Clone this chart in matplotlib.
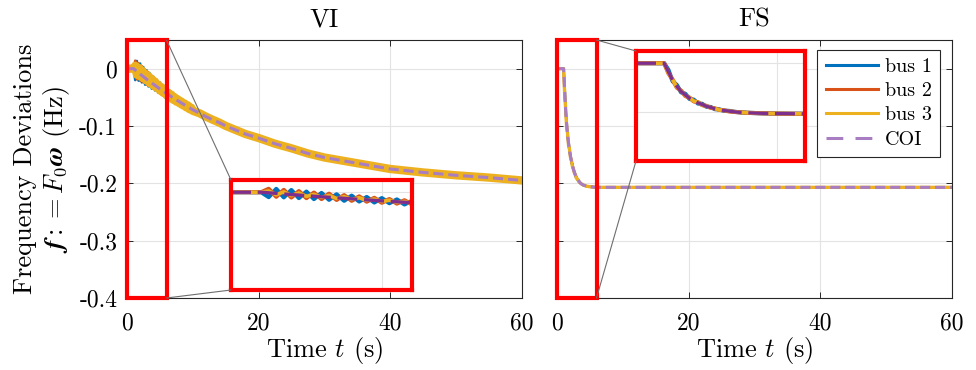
import numpy as np
import matplotlib
matplotlib.use('Agg')
import matplotlib.pyplot as plt
from matplotlib.patches import Rectangle, ConnectionPatch

plt.rcParams['font.family'] = 'cmr10'
plt.rcParams['mathtext.fontset'] = 'cm'
plt.rcParams['axes.unicode_minus'] = False

# VI case: bus frequencies (Hz), oscillating part then slow decay
vi_t = [0, 1.0, 1.25, 1.5, 1.75, 2.0, 2.25, 2.5, 2.75, 3.0, 3.25, 3.5, 3.75, 4.0,
        4.25, 4.5, 4.75, 5.0, 5.25, 5.5, 5.75, 6.0, 6.25, 6.5, 6.75, 7.0, 7.25,
        7.5, 7.75, 8.0, 8.25, 8.5, 8.75, 9.0, 9.25, 9.5, 9.75, 10.0,
        11, 12, 13, 14, 15, 18, 20, 22.5, 25, 27.5, 30, 35, 40, 45, 50, 55, 60]
vi_tail = [-0.0777, -0.0837, -0.089, -0.094, -0.0999, -0.114, -0.121, -0.131,
           -0.139, -0.148, -0.155, -0.165, -0.175, -0.181, -0.186, -0.190, -0.195]
vi_bus1 = [0, 0, -0.020, 0.0135, -0.021, 0.009, -0.024, 0.0025, -0.028, -0.003,
           -0.031, -0.0085, -0.035, -0.014, -0.038, -0.0195, -0.042, -0.024,
           -0.045, -0.0295, -0.050, -0.035, -0.0528, -0.0386, -0.0554, -0.044,
           -0.060, -0.0475, -0.0623, -0.052, -0.0658, -0.0555, -0.0683, -0.060,
           -0.0717, -0.0633, -0.074, -0.0676] + vi_tail
vi_bus2 = [0, 0, 0.014, -0.0185, 0.0095, -0.0215, 0.0045, -0.024, -0.0015, -0.028,
           -0.006, -0.0315, -0.012, -0.035, -0.017, -0.0385, -0.023, -0.043,
           -0.028, -0.0465, -0.033, -0.050, -0.0378, -0.0536, -0.0424, -0.057,
           -0.047, -0.0605, -0.0513, -0.063, -0.0548, -0.0665, -0.0588, -0.0695,
           -0.0622, -0.0728, -0.0665, -0.0751] + vi_tail
vi_bus3 = [0, 0, 0.005, -0.0105, 0.0015, -0.0135, -0.003, -0.017, -0.0085, -0.021,
           -0.013, -0.0255, -0.018, -0.0295, -0.0225, -0.0335, -0.028, -0.038,
           -0.0325, -0.042, -0.0375, -0.046, -0.0418, -0.0496, -0.0454, -0.054,
           -0.050, -0.0575, -0.0538, -0.0605, -0.0573, -0.064, -0.0608, -0.0675,
           -0.0642, -0.0708, -0.068, -0.0736] + vi_tail
vi_coi_t = [0, 1, 2, 3, 4, 5, 6, 7, 8, 9, 10, 11, 12, 13, 14, 15, 18, 20, 22.5,
            25, 27.5, 30, 35, 40, 45, 50, 55, 60]
vi_coi = [0, 0, -0.0095, -0.0186, -0.027, -0.0355, -0.043, -0.051, -0.058,
          -0.065, -0.0716] + vi_tail

# FS case
fs_t = [0, 1.0, 1.15, 1.3, 1.45, 1.6, 1.75, 1.9, 2.05, 2.2, 2.35, 2.5, 2.65, 2.8,
        2.95, 3.1, 3.3, 3.5, 3.7, 4.0, 4.5, 5.0, 6.0, 8.0, 60]
fs_bus1 = [0, 0, -0.027, -0.074, -0.089, -0.119, -0.125, -0.146, -0.149, -0.165,
           -0.166, -0.178, -0.179, -0.188, -0.1885, -0.194, -0.195, -0.199,
           -0.201, -0.203, -0.205, -0.206, -0.207, -0.207, -0.207]
fs_bus2 = [0, 0, -0.041, -0.067, -0.100, -0.112, -0.134, -0.1405, -0.156, -0.1595,
           -0.1715, -0.1745, -0.1825, -0.1845, -0.191, -0.192, -0.197, -0.199,
           -0.201, -0.203, -0.205, -0.206, -0.207, -0.207, -0.207]
fs_bus3 = [0, 0, -0.040, -0.0675, -0.099, -0.1125, -0.133, -0.141, -0.155, -0.160,
           -0.171, -0.175, -0.182, -0.185, -0.191, -0.1925, -0.1965, -0.199,
           -0.201, -0.203, -0.205, -0.206, -0.207, -0.207, -0.207]
fs_coi = [0, 0, -0.035, -0.070, -0.095, -0.115, -0.130, -0.143, -0.153, -0.162,
          -0.169, -0.176, -0.181, -0.186, -0.190, -0.193, -0.196, -0.199,
          -0.201, -0.203, -0.205, -0.206, -0.207, -0.207, -0.207]

labels = ['bus 1', 'bus 2', 'bus 3', 'COI']
c1, c2, c3 = '#0072BD', '#D95319', '#EDB120'
coi_main = '#A87DC2'
coi_zoom = '#7E2F8E'
axcol = '#262626'

W, H = 976, 370
fig = plt.figure(figsize=(W / 100, H / 100), dpi=100)


def style_axes(ax):
    ax.set_xlim(0, 60)
    ax.set_ylim(-0.4, 0.05)
    ax.set_xticks([0, 20, 40, 60])
    ax.set_xticklabels(['0', '20', '40', '60'])
    ax.set_yticks([-0.4, -0.3, -0.2, -0.1, 0])
    ax.set_yticklabels(['-0.4', '-0.3', '-0.2', '-0.1', '0'])
    ax.grid(True, color='#E3E3E3', lw=0.8)
    ax.set_axisbelow(True)
    ax.tick_params(direction='in', length=4, width=0.7, color=axcol,
                   top=True, right=True, labelsize=17)
    ax.tick_params(axis='x', pad=10)
    ax.tick_params(axis='y', pad=7)
    for s in ax.spines.values():
        s.set_color(axcol)
        s.set_linewidth(0.8)
    ax.set_xlabel('Time $t$ (s)', fontsize=19, labelpad=1)


def zoom_box(ax, rect):
    ins = fig.add_axes(rect)
    ins.set_xlim(0, 6)
    ins.set_ylim(-0.4, 0.05)
    ins.set_xticks([0, 5])
    ins.set_yticks([-0.4, -0.2, 0])
    ins.tick_params(length=0, labelbottom=False, labelleft=False)
    ins.grid(True, color='#E3E3E3', lw=0.8)
    ins.set_axisbelow(True)
    for s in ins.spines.values():
        s.set_color('red')
        s.set_linewidth(3)
    ax.add_patch(Rectangle((0, -0.4), 6, 0.45, fill=False, ec='red', lw=3,
                           clip_on=False, zorder=6))
    for ya, yb in [(0.05, 1), (-0.4, 0)]:
        con = ConnectionPatch(xyA=(6, ya), coordsA='data', axesA=ax,
                              xyB=(0, yb), coordsB='axes fraction', axesB=ins,
                              color='#6E6E6E', lw=0.8, zorder=7)
        fig.add_artist(con)
    return ins


def draw(ax, ins, t, b1, b2, b3, ct, coi, lw3):
    ax.plot(t, b1, color=c1, lw=1.8)
    ax.plot(t, b2, color=c2, lw=1.8)
    ax.plot(t, b3, color=c3, lw=lw3)
    ax.plot(ct, coi, color=coi_main, lw=2.2, dashes=(3.3, 1.6))
    ins.plot(t, b1, color=c1, lw=3)
    ins.plot(t, b2, color=c2, lw=3)
    ins.plot(t, b3, color=c3, lw=2.6)
    ins.plot(ct, coi, color=coi_zoom, lw=2.4, dashes=(6, 2))


bottom = 1 - 298 / H
height = 258 / H
axL = fig.add_axes([127 / W, bottom, 395 / W, height])
axR = fig.add_axes([557 / W, bottom, 395 / W, height])
style_axes(axL)
style_axes(axR)
axR.tick_params(labelleft=False)

insL = zoom_box(axL, [231 / W, 1 - 290 / H, 181 / W, 110 / H])
insR = zoom_box(axR, [636 / W, 1 - 161 / H, 169 / W, 110 / H])

draw(axL, insL, vi_t, vi_bus1, vi_bus2, vi_bus3, vi_coi_t, vi_coi, 6)
draw(axR, insR, fs_t, fs_bus1, fs_bus2, fs_bus3, fs_t, fs_coi, 2.4)

axL.set_title('VI', fontsize=19, pad=10)
axR.set_title('FS', fontsize=19, pad=10)
axL.set_ylabel('Frequency Deviations\n'
               r'$\mathbfit{f} := F_0\mathbfit{\omega}$ (Hz)',
               fontsize=19, labelpad=5, linespacing=1.2)

# legend handles
hl = [plt.Line2D([], [], color=c1, lw=2.2),
      plt.Line2D([], [], color=c2, lw=2.2),
      plt.Line2D([], [], color=c3, lw=2.2),
      plt.Line2D([], [], color=coi_main, lw=2.2, dashes=(5.5, 4))]
leg = axR.legend(hl, labels, loc='upper right',
                 bbox_to_anchor=(1 - 12 / 395, 1 - 10 / 258), borderaxespad=0,
                 fontsize=14.5, fancybox=False, framealpha=1, edgecolor=axcol,
                 handlelength=2.6, handletextpad=0.35, labelspacing=0.3,
                 borderpad=0.4)
leg.get_frame().set_linewidth(0.8)
leg.set_zorder(8)

fig.savefig('out.png', dpi=100)
